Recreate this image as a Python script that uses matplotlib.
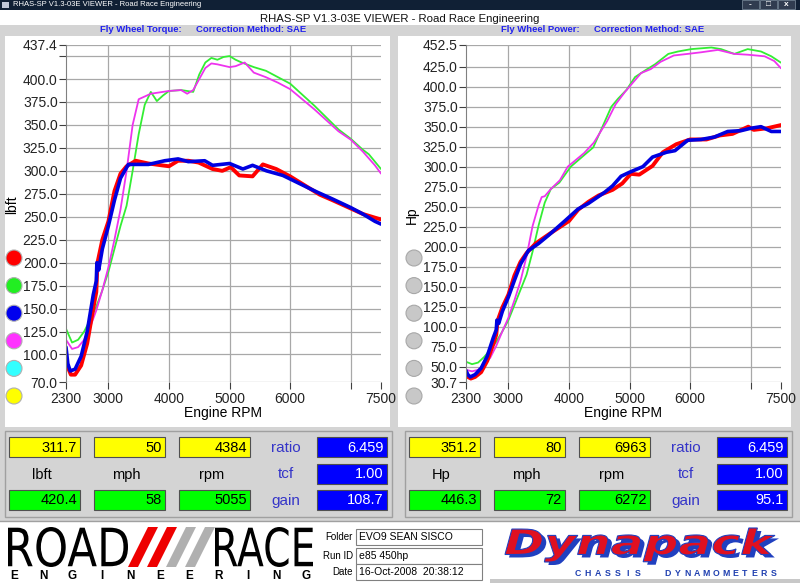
import matplotlib
matplotlib.use("Agg")
import matplotlib.pyplot as plt
import matplotlib.patches as patches
from matplotlib.textpath import TextPath
from matplotlib.font_manager import FontProperties
from matplotlib.transforms import Affine2D

plt.rcParams['font.family'] = ['Liberation Sans', 'DejaVu Sans']

# ---- torque curves (lbft) ----
tq_red_rpm = [2300, 2330, 2380, 2450, 2550, 2650, 2750, 2800, 2820, 2900, 3000, 3100, 3200, 3300, 3450, 3660,
              3880, 4000, 4150, 4320, 4490, 4720, 4880, 5020, 5160, 5380, 5550, 5770, 6000, 6270, 6490, 6700,
              7000, 7200, 7400, 7500]
tq_red = [95, 86, 78, 78, 88, 112, 150, 168, 200, 225, 245, 278, 297, 305, 311, 308,
          306, 305, 311, 311, 309, 302, 300, 304, 295, 294, 307, 302, 294, 283, 274, 268,
          259, 253, 249, 247]

tq_blue_rpm = [2300, 2330, 2370, 2450, 2550, 2650, 2750, 2800, 2810, 2840, 2900, 3000, 3100, 3200, 3330, 3660,
               3930, 4150, 4320, 4590, 4720, 5000, 5220, 5380, 5610, 5880, 6160, 6440, 6710, 7000, 7200,
               7400, 7500]
tq_blue = [108, 90, 82, 84, 98, 125, 165, 180, 200, 192, 215, 240, 268, 292, 307, 307,
           311, 313, 310, 311, 306, 308, 302, 306, 300, 295, 286, 277, 269, 260, 253,
           245, 242]

tq_green_rpm = [2300, 2400, 2500, 2600, 2700, 2800, 2900, 3000, 3100, 3200, 3300, 3400, 3500, 3600, 3700, 3800,
                3900, 4000, 4200, 4400, 4500, 4600, 4700, 4800, 4900, 5000, 5100, 5200, 5400, 5600, 5800, 6000,
                6200, 6400, 6600, 6800, 7000, 7200, 7300, 7400, 7500]
tq_green = [128, 113, 116, 125, 138, 152, 170, 190, 215, 240, 262, 300, 340, 372, 386, 376,
            382, 387, 388, 386, 405, 418, 423, 421, 424, 425, 421, 418, 413, 409, 402, 395,
            383, 371, 358, 345, 335, 323, 318, 310, 302]

tq_mag_rpm = [2300, 2400, 2500, 2600, 2700, 2800, 2900, 3000, 3100, 3200, 3300, 3400, 3500, 3600, 3700, 3800,
              4000, 4200, 4300, 4400, 4500, 4600, 4700, 4800, 5000, 5100, 5250, 5400, 5600, 5800, 6000, 6200,
              6400, 6600, 6800, 7000, 7200, 7400, 7500]
tq_mag = [116, 106, 108, 116, 130, 148, 170, 195, 225, 258, 300, 350, 378, 381, 384, 385,
          387, 388, 384, 388, 400, 412, 417, 416, 413, 414, 418, 407, 402, 396, 389, 378,
          367, 355, 343, 334, 321, 306, 297]

# ---- power curves (Hp) ----
hp_red_rpm = [2300, 2330, 2380, 2450, 2550, 2650, 2750, 2800, 2820, 2900, 3000, 3100, 3200, 3300, 3450, 3660,
              3880, 4000, 4150, 4320, 4490, 4720, 4880, 5020, 5160, 5380, 5550, 5770, 6000, 6270, 6490, 6700,
              6960, 7050, 7270, 7500]
hp_red = [40, 37, 35, 37, 43, 57, 78, 90, 107, 124, 140, 164, 181, 192, 204, 215,
          226, 232, 246, 256, 264, 271, 279, 291, 290, 301, 318, 328, 334, 334, 339, 341,
          350, 346, 348, 352]

hp_blue_rpm = [2300, 2330, 2370, 2450, 2550, 2650, 2750, 2800, 2810, 2840, 2900, 3000, 3100, 3200, 3330, 3500,
               3660, 3930, 4150, 4320, 4590, 4720, 4860, 5000, 5220, 5380, 5610, 5750, 5960, 6180, 6400,
               6620, 6840, 7000, 7170, 7340, 7500]
hp_blue = [45, 40, 37, 40, 48, 63, 86, 96, 108, 104, 119, 137, 158, 178, 195, 204,
           214, 232, 247, 254, 268, 276, 288, 293, 300, 312, 318, 320, 333, 334, 337,
           344, 345, 348, 350, 344, 344]

hp_green_rpm = [2300, 2400, 2500, 2600, 2700, 2800, 2900, 3000, 3100, 3200, 3300, 3400, 3500, 3600, 3700, 3840,
                4030, 4260, 4400, 4530, 4700, 4810, 4950, 5090, 5250, 5420, 5640, 5800, 6020, 6350, 6510, 6730,
                6950, 7170, 7340, 7500]
hp_green = [56, 53, 55, 62, 71, 81, 94, 108, 127, 146, 165, 194, 227, 255, 272, 280,
            300, 315, 324, 346, 375, 385, 396, 412, 420, 428, 441, 444, 447, 449, 447, 441,
            447, 444, 438, 430]

hp_mag_rpm = [2300, 2400, 2500, 2600, 2700, 2800, 2900, 3000, 3100, 3200, 3300, 3400, 3500, 3550, 3600, 3700,
              3850, 3980, 4250, 4410, 4630, 4770, 4930, 5190, 5350, 5510, 5730, 5960, 6180, 6460, 6730, 6950,
              7230, 7390, 7500]
hp_mag = [46, 44, 46, 52, 61, 76, 94, 111, 133, 157, 188, 226, 252, 262, 263, 272,
          283, 300, 317, 330, 357, 378, 394, 417, 422, 431, 439, 441, 443, 446, 441, 440,
          438, 432, 423]

# ---- axis ticks ----
rpm_ticks = [2300, 3000, 4000, 5000, 6000, 7000, 7500]
rpm_labels = ['2300', '3000', '4000', '5000', '6000', '', '7500']
tq_ticks = [70, 100, 125, 150, 175, 200, 225, 250, 275, 300, 325, 350, 375, 400, 425, 437.4]
tq_labels = ['70.0', '100.0', '125.0', '150.0', '175.0', '200.0', '225.0', '250.0', '275.0', '300.0',
             '325.0', '350.0', '375.0', '400.0', '', '437.4']
hp_ticks = [30.7, 50, 75, 100, 125, 150, 175, 200, 225, 250, 275, 300, 325, 350, 375, 400, 425, 452.5]
hp_labels = ['30.7', '50.0', '75.0', '100.0', '125.0', '150.0', '175.0', '200.0', '225.0', '250.0', '275.0',
             '300.0', '325.0', '350.0', '375.0', '400.0', '425.0', '452.5']

# ---- readout panels ----
left_yellow = ['311.7', '50', '4384']
left_green = ['420.4', '58', '5055']
left_units = ['lbft', 'mph', 'rpm']
left_blue = ['6.459', '1.00', '108.7']
right_yellow = ['351.2', '80', '6963']
right_green = ['446.3', '72', '6272']
right_units = ['Hp', 'mph', 'rpm']
right_blue = ['6.459', '1.00', '95.1']
blue_names = ['ratio', 'tcf', 'gain']

dot_colors = ['#ff0000', '#22ee22', '#0000ee', '#ff33ff', '#33ffff', '#ffff00']

title = 'RHAS-SP V1.3-03E VIEWER - Road Race Engineering'

W, H = 800, 583
fig = plt.figure(figsize=(W / 100, H / 100), dpi=100)
fig.patch.set_facecolor('#d4d4d4')

bg = fig.add_axes([0, 0, 1, 1])
bg.set_xlim(0, W)
bg.set_ylim(H, 0)
bg.axis('off')


def box(x0, y0, x1, y1, fc, ec='none', lw=0.8, z=1):
    bg.add_patch(patches.Rectangle((x0, y0), x1 - x0, y1 - y0, facecolor=fc, edgecolor=ec, lw=lw, zorder=z))


def fit_text(s, x0, y0, x1, y1, prop, fc, ec='none', lw=0, z=3):
    # text squeezed into a pixel box (logo lettering)
    tp = TextPath((0, 0), s, size=1, prop=prop)
    bb = tp.get_extents()
    tr = Affine2D().translate(-bb.x0, -bb.y0).scale((x1 - x0) / bb.width, -(y1 - y0) / bb.height) \
        .translate(x0, y1) + bg.transData
    bg.add_patch(patches.PathPatch(tp, transform=tr, facecolor=fc, edgecolor=ec, lw=lw, zorder=z))


# window title bar
box(0, 0, 800, 10, '#102035')
bg.text(13, 5, title, color='white', fontsize=5.5, va='center', ha='left')
box(2, 2, 9, 8, '#c0c8d8')
for bx, lab in [(742, '-'), (760, '□'), (778, 'x')]:
    box(bx, 0, bx + 17, 9, '#303c50', ec='#8090a0', lw=0.5)
    bg.text(bx + 8.5, 4.5, lab, color='white', fontsize=6, ha='center', va='center', weight='bold')

# white band with centred title
box(0, 10, 800, 25, 'white')
bg.text(400, 18.5, title, fontsize=8.2, ha='center', va='center', color='#111111')

hdr = dict(fontsize=6.8, weight='bold', color='#2222ee', va='center')
bg.text(100, 30, 'Fly Wheel Torque:', **hdr)
bg.text(196, 30, 'Correction Method: SAE', **hdr)
bg.text(501, 30, 'Fly Wheel Power:', **hdr)
bg.text(594, 30, 'Correction Method: SAE', **hdr)

# white chart panels
box(5, 36, 390, 427, 'white')
box(398, 36, 791, 427, 'white')

bg.text(12, 205, 'lbft', rotation=90, fontsize=10, ha='center', va='center')
bg.text(412, 215, 'Hp', rotation=90, fontsize=10, ha='center', va='center')
bg.text(223, 413, 'Engine RPM', fontsize=10, ha='center', va='center')
bg.text(623, 413, 'Engine RPM', fontsize=10, ha='center', va='center')

for i, c in enumerate(dot_colors):
    cy = 258 + i * 27.6
    bg.add_patch(patches.Circle((14, cy), 8, facecolor=c, edgecolor='#b0b0b0', lw=0.8, zorder=2))
    bg.add_patch(patches.Circle((414, cy), 8, facecolor='#c8c8c8', edgecolor='#a8a8a8', lw=0.8, zorder=2))


# readout panels
def readout(x, yellow, green, units, blues):
    box(x + 5, 431, x + 392, 517, '#d4d4d4', ec='#a0a0a0', lw=1)
    cols = [(9, 80), (94, 165), (179, 250)]
    for (a, b), yv, gv, u in zip(cols, yellow, green, units):
        box(x + a, 437, x + b, 457, '#ffff00', ec='#505050', z=2)
        bg.text(x + b - 3, 447.5, yv, fontsize=10.5, ha='right', va='center', zorder=3)
        box(x + a, 490, x + b, 510, '#00ff00', ec='#505050', z=2)
        bg.text(x + b - 3, 500.5, gv, fontsize=10.5, ha='right', va='center', zorder=3)
        bg.text(x + (a + b) / 2 - 3, 475, u, fontsize=10.5, ha='center', va='center', zorder=3)
    for j, (nm, bv) in enumerate(zip(blue_names, blues)):
        y0 = 437 + j * 26.5
        bg.text(x + 286, y0 + 11, nm, fontsize=11, color='#3535c8', ha='center', va='center', zorder=3)
        box(x + 317, y0, x + 387, y0 + 20, '#0000ff', ec='#505050', z=2)
        bg.text(x + 384, y0 + 10.5, bv, fontsize=10.5, color='white', ha='right', va='center', zorder=3)


readout(0, left_yellow, left_green, left_units, left_blue)
readout(400, right_yellow, right_green, right_units, right_blue)

# footer
box(0, 521, 800, 583, 'white')
bg.plot([0, 800], [521, 521], color='#a0a0a0', lw=1)
thin = FontProperties(family='DejaVu Sans', weight='normal')
fit_text('ROAD', 8, 527, 128, 567, thin, 'black')
fit_text('RACE', 215, 527, 313, 567, thin, 'black')
for k, c in enumerate(['#ee0000', '#ee0000', '#b0b0b0', '#b0b0b0']):
    x0 = 128 + k * 19
    bg.add_patch(patches.Polygon([(x0, 567), (x0 + 10, 567), (x0 + 30, 527), (x0 + 20, 527)],
                                 closed=True, facecolor=c, edgecolor='none', zorder=2))
for k, ch in enumerate('ENGINEERING'):
    bg.text(14 + k * 29.2, 576, ch, fontsize=8.5, weight='bold', ha='center', va='center')

for yy, lab, val in [(537, 'Folder', 'EVO9 SEAN SISCO'), (556, 'Run ID', 'e85 450hp'),
                     (572, 'Date', '16-Oct-2008  20:38:12')]:
    bg.text(353, yy, lab, fontsize=7, ha='right', va='center')
    box(356, yy - 8, 482, yy + 8, 'white', ec='#808080', z=2)
    bg.text(359, yy, val, fontsize=7.5, ha='left', va='center', zorder=3)

dyna = FontProperties(family='DejaVu Sans', weight='bold', style='italic')
fit_text('Dynapack', 509, 531, 779, 565, dyna, '#2040c0', z=3)
fit_text('Dynapack', 505, 528, 775, 562, dyna, '#e01020', ec='#2040c0', lw=0.8, z=4)
for k, ch in enumerate('CHASSIS'):
    bg.text(578 + k * 10, 573, ch, fontsize=6.3, weight='bold', color='#2040b0', ha='center', va='center')
for k, ch in enumerate('DYNAMOMETERS'):
    bg.text(668 + k * 9.6, 573, ch, fontsize=6.3, weight='bold', color='#2040b0', ha='center', va='center')
box(490, 579, 800, 583, '#c8c8c8')


# charts
def chart(x0, ylim, yt, ylab, series):
    ax = fig.add_axes([x0 / W, 1 - 382 / H, 315 / W, 337.3 / H])
    ax.set_facecolor('white')
    for rpm, vals, col, lw in series:
        ax.plot(rpm, vals, color=col, lw=lw, solid_capstyle='round')
    ax.set_xlim(2300, 7500)
    ax.set_ylim(*ylim)
    ax.set_xticks(rpm_ticks)
    ax.set_xticklabels(rpm_labels)
    ax.set_yticks(yt)
    ax.set_yticklabels(ylab)
    ax.grid(True, color='#a8a8a8', lw=0.9)
    ax.xaxis.get_gridlines()[-1].set_visible(False)
    ax.xaxis.get_gridlines()[0].set_visible(False)
    for s in ['top', 'right', 'bottom']:
        ax.spines[s].set_visible(False)
    ax.spines['left'].set_color('#808080')
    ax.tick_params(axis='both', colors='#404040', labelcolor='#222222', labelsize=10, length=5, width=0.8)
    ax.tick_params(axis='x', pad=2)
    ax.tick_params(axis='y', pad=1)
    return ax


chart(66, (70, 437.4), tq_ticks, tq_labels,
      [(tq_green_rpm, tq_green, '#33ee33', 1.3), (tq_mag_rpm, tq_mag, '#ee33ee', 1.3),
       (tq_red_rpm, tq_red, '#ff0000', 2.8), (tq_blue_rpm, tq_blue, '#0000e0', 2.6)])
chart(466, (30.7, 452.5), hp_ticks, hp_labels,
      [(hp_green_rpm, hp_green, '#33ee33', 1.3), (hp_mag_rpm, hp_mag, '#ee33ee', 1.3),
       (hp_red_rpm, hp_red, '#ff0000', 2.8), (hp_blue_rpm, hp_blue, '#0000e0', 2.6)])

fig.savefig('out.png', dpi=100)
